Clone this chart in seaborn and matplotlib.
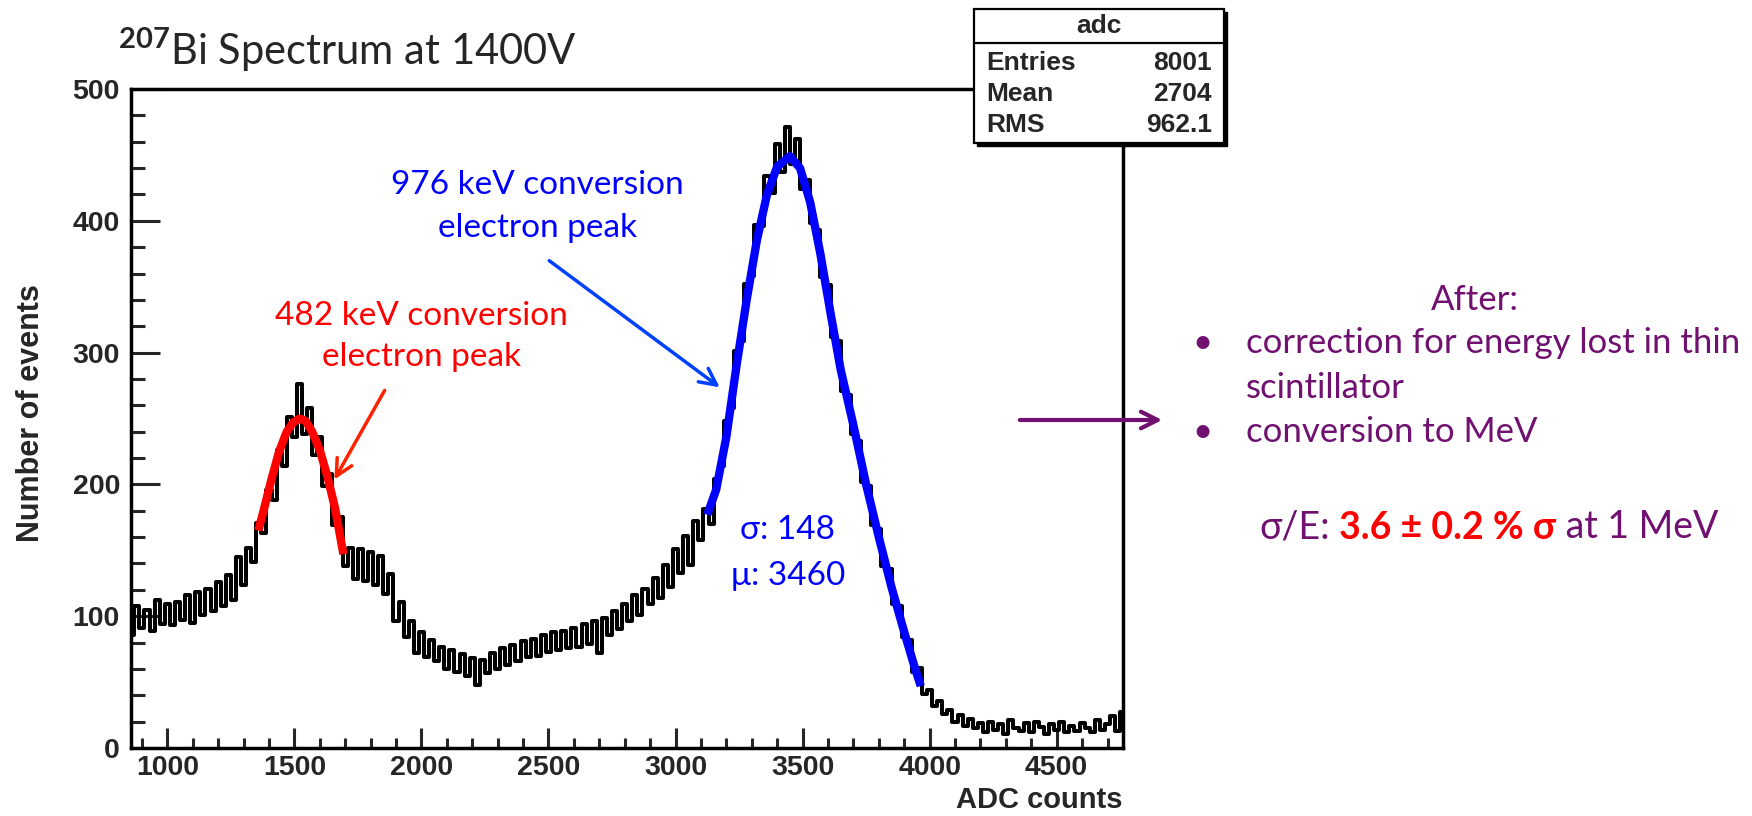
import numpy as np
import pandas as pd
import seaborn as sns
import matplotlib.pyplot as plt
from matplotlib.ticker import MultipleLocator
from matplotlib.patches import Rectangle
from matplotlib.lines import Line2D

# ---------------- data ----------------
# histogram of ADC counts, 20 ADC per bin, first bin starts at 850
bin_start = 850
bin_width = 20
counts = [86, 108, 91, 105, 89, 112, 94, 109, 93, 111,
          97, 116, 95, 118, 101, 121, 104, 126, 108, 131,
          112, 145, 124, 152, 141, 171, 163, 196, 188, 226,
          214, 251, 236, 276, 238, 258, 222, 236, 199, 208,
          169, 175, 138, 152, 128, 151, 127, 149, 124, 146,
          117, 132, 96, 111, 84, 96, 72, 88, 69, 82,
          66, 77, 60, 74, 58, 71, 55, 68, 48, 67,
          57, 72, 60, 76, 63, 78, 66, 81, 69, 83,
          70, 86, 73, 88, 74, 89, 76, 91, 77, 94,
          79, 96, 72, 99, 86, 104, 90, 109, 96, 116,
          101, 121, 109, 129, 114, 139, 122, 151, 133, 161,
          139, 172, 158, 181, 170, 204, 214, 248, 258, 301,
          309, 352, 358, 397, 396, 434, 421, 458, 437, 471,
          443, 462, 424, 431, 398, 393, 357, 351, 312, 309,
          271, 268, 238, 233, 202, 199, 169, 166, 138, 136,
          109, 108, 84, 82, 58, 61, 41, 44, 32, 36,
          26, 29, 20, 25, 17, 22, 15, 19, 12, 20,
          14, 18, 11, 21, 15, 13, 19, 12, 20, 16,
          11, 18, 14, 20, 12, 17, 13, 19, 15, 12,
          21, 14, 18, 24, 13, 27]

# fitted curves as drawn on the plot
red_fit_adc = [1358, 1380, 1410, 1440, 1470, 1495, 1521, 1545, 1570, 1600, 1630, 1660, 1693]
red_fit_val = [165, 181, 204, 225, 240, 247, 250, 248, 240, 226, 206, 182, 147]
blue_fit_adc = [3125, 3160, 3200, 3240, 3280, 3320, 3360, 3400, 3450, 3490, 3530,
                3570, 3610, 3650, 3700, 3750, 3800, 3850, 3900, 3940, 3965]
blue_fit_val = [177, 196, 236, 290, 340, 385, 420, 441, 449, 440, 414,
                375, 330, 287, 245, 200, 160, 122, 88, 62, 47]

stat_names = ['Entries', 'Mean', 'RMS']
stat_values = ['8001', '2704', '962.1']
after_lines = ['correction for energy lost in thin', 'scintillator', 'conversion to MeV']

# ---------------- style ----------------
W, H = 1752, 816
def fx(px):
    return px / W
def fy(py):
    return 1 - py / H

PURPLE = '#701070'
BLUE = '#0000ff'
RED = '#ff0000'

sns.set_style('white')
plt.rcParams['font.family'] = ['Liberation Sans', 'DejaVu Sans']
plt.rcParams['font.weight'] = 'bold'
plt.rcParams['mathtext.fontset'] = 'custom'
plt.rcParams['mathtext.rm'] = 'Lato'
slide_font = ['Lato', 'DejaVu Sans']

fig = plt.figure(figsize=(W / 100, H / 100), dpi=100)
ax = fig.add_axes([fx(131), fy(748), (1123 - 131) / W, (748 - 89) / H])

edges = [bin_start + bin_width * i for i in range(len(counts) + 1)]
hist_df = pd.DataFrame({'adc': [e + bin_width / 2 for e in edges[:-1]], 'n': counts})

sns.histplot(data=hist_df, x='adc', weights='n', bins=edges, element='step',
             fill=False, color='black', linewidth=2.9, ax=ax)
sns.lineplot(x=red_fit_adc, y=red_fit_val, color=RED, linewidth=6, ax=ax,
             solid_capstyle='butt')
sns.lineplot(x=blue_fit_adc, y=blue_fit_val, color=BLUE, linewidth=6, ax=ax,
             solid_capstyle='butt')

ax.set_xlim(857, 4761)
ax.set_ylim(0, 500)
ax.xaxis.set_major_locator(MultipleLocator(500))
ax.xaxis.set_minor_locator(MultipleLocator(100))
ax.yaxis.set_major_locator(MultipleLocator(100))
ax.yaxis.set_minor_locator(MultipleLocator(20))

ax.tick_params(axis='y', which='major', direction='in', length=21, width=2.2,
               pad=8, labelsize=20.5, left=True, right=False)
ax.tick_params(axis='y', which='minor', direction='in', length=10, width=2.2,
               left=True, right=False)
ax.tick_params(axis='x', which='major', direction='in', length=14.4, width=2.2,
               pad=5, labelsize=20.5, bottom=True, top=False)
ax.tick_params(axis='x', which='minor', direction='in', length=7.2, width=2.2,
               bottom=True, top=False)

for s in ax.spines.values():
    s.set_visible(True)
    s.set_linewidth(2.5)
    s.set_color('black')

ax.set_xlabel('ADC counts', fontsize=21, fontweight='bold', loc='right')
ax.xaxis.set_label_coords(1.0, -0.057)
ax.set_ylabel('Number of events', fontsize=22, fontweight='bold')
ax.yaxis.set_label_coords(-0.086, 0.508)

# title
fig.text(fx(118), fy(50), r'$^{207}$Bi Spectrum at 1400V', family=slide_font,
         fontsize=30, weight='normal', ha='left', va='center')

# stats box
fig.add_artist(Rectangle((fx(977), fy(146)), fx(1224) - fx(974), fy(9) - fy(143),
                         transform=fig.transFigure, facecolor='black',
                         edgecolor='black', zorder=9))
fig.add_artist(Rectangle((fx(974), fy(143)), fx(1224) - fx(974), fy(9) - fy(143),
                         transform=fig.transFigure, facecolor='white',
                         edgecolor='black', lw=1.6, zorder=10))
fig.add_artist(Line2D([fx(974), fx(1224)], [fy(43), fy(43)], transform=fig.transFigure,
                      color='black', lw=1.6, zorder=11))
fig.text(fx(1099), fy(26), 'adc', fontsize=19, ha='center', va='center', zorder=12)
for i, (name, val) in enumerate(zip(stat_names, stat_values)):
    yy = fy(63 + 31 * i)
    fig.text(fx(986), yy, name, fontsize=19, ha='left', va='center', zorder=12)
    fig.text(fx(1212), yy, val, fontsize=19, ha='right', va='center', zorder=12)

# annotations on the spectrum
txt = dict(family=slide_font, fontsize=24, weight='normal', ha='center', va='center')
fig.text(fx(537), fy(185), '976 keV conversion', color=BLUE, **txt)
fig.text(fx(537), fy(228), 'electron peak', color=BLUE, **txt)
fig.text(fx(421), fy(316), '482 keV conversion', color=RED, **txt)
fig.text(fx(421), fy(357), 'electron peak', color=RED, **txt)
fig.text(fx(788), fy(530), 'σ: 148', color=BLUE, **txt)
fig.text(fx(788), fy(576), 'μ: 3460', color=BLUE, **txt)

arrow = dict(xycoords='figure fraction', textcoords='figure fraction')
ax.annotate('', xy=(fx(722), fy(389)), xytext=(fx(547), fy(259)),
            arrowprops=dict(arrowstyle='->', color='#0040ff', lw=2.5, mutation_scale=30),
            **arrow)
ax.annotate('', xy=(fx(333), fy(482)), xytext=(fx(386), fy(388)),
            arrowprops=dict(arrowstyle='->', color='#ff2200', lw=2.5, mutation_scale=30),
            **arrow)
ax.annotate('', xy=(fx(1165), fy(420)), xytext=(fx(1017), fy(420)),
            arrowprops=dict(arrowstyle='->', color=PURPLE, lw=3, mutation_scale=30),
            **arrow)

# right-hand notes
side = dict(family=slide_font, fontsize=25, weight='normal', color=PURPLE, va='center')
fig.text(fx(1475), fy(300), 'After:', ha='center', **side)
fig.text(fx(1192), fy(343), '•', ha='left', **side)
fig.text(fx(1192), fy(432), '•', ha='left', **side)
for line, yy in zip(after_lines, [343, 388, 432]):
    fig.text(fx(1246), fy(yy), line, ha='left', **side)

t1 = fig.text(fx(1259), fy(527), 'σ/E:', family=slide_font, fontsize=27,
              weight='normal', color=PURPLE, ha='left', va='center')
t2 = ax.annotate(' 3.6 ± 0.2 % σ', xy=(1, 0), xycoords=t1, ha='left', va='bottom',
                 family=slide_font, fontsize=27, weight='bold', color=RED)
ax.annotate(' at 1 MeV', xy=(1, 0), xycoords=t2, ha='left', va='bottom',
            family=slide_font, fontsize=27, weight='normal', color=PURPLE)

fig.savefig('out.png', dpi=100)
